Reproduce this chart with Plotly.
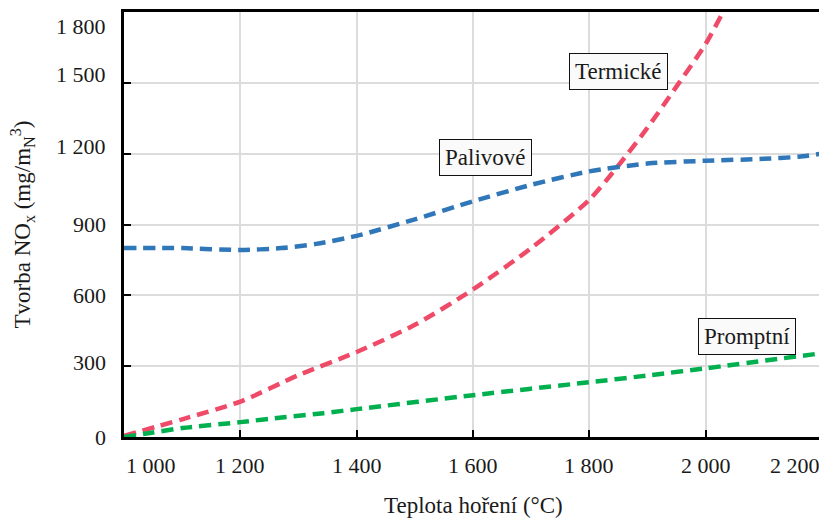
import plotly.graph_objects as go

# --- data ---
termicke_x = [1000, 1100, 1200, 1300, 1400, 1500, 1600, 1700, 1800, 1850, 1900, 1950, 2000, 2030, 2060]
termicke_y = [5, 75, 150, 262, 360, 475, 625, 800, 1005, 1150, 1310, 1485, 1665, 1800, 1930]

palivove_x = [1000, 1100, 1200, 1270, 1330, 1400, 1500, 1600, 1700, 1800, 1900, 2000, 2100, 2160, 2200]
palivove_y = [800, 800, 792, 800, 818, 852, 922, 998, 1068, 1125, 1158, 1170, 1178, 1187, 1200]

promptni_x = [1000, 1045, 1100, 1200, 1275, 1343, 1400, 1600, 1800, 1905, 2000, 2200]
promptni_y = [0, 17, 38, 63, 84, 101, 118, 177, 232, 262, 291, 355]

x_ticks = [1000, 1200, 1400, 1600, 1800, 2000, 2200]
x_tick_text = ["1 000", "1 200", "1 400", "1 600", "1 800", "2 000", "2 200"]
y_ticks = [0, 300, 600, 900, 1200, 1500, 1800]
y_tick_text = ["0", "300", "600", "900", "1 200", "1 500", "1 800"]

series_names = ["Termické", "Palivové", "Promptní"]
label_pos_x = [1850, 1622, 2071]
label_pos_y = [1550, 1183, 427]

# --- styling ---
FONT = "Liberation Serif"
TXT = "#1a1a1a"
colors = ["#EF4B68", "#2F77B9", "#00B04F"]
y_label_shift = [0, 4, 0, 0, 7, 8, -14]
x_label_anchor = ["left", "center", "center", "center", "center", "center", "right"]

fig = go.Figure()
for xs, ys, c, n in zip([termicke_x, palivove_x, promptni_x],
                        [termicke_y, palivove_y, promptni_y], colors, series_names):
    fig.add_trace(go.Scatter(x=xs, y=ys, mode="lines", name=n,
                             line=dict(color=c, width=4.5, dash="12px,7px",
                                       shape="spline", smoothing=0.7),
                             showlegend=False))

annotations = []
for v, t, a in zip(x_ticks, x_tick_text, x_label_anchor):
    annotations.append(dict(x=v, xref="x", y=0, yref="paper", text=t,
                            showarrow=False, xanchor=a, yanchor="middle",
                            yshift=-28, font=dict(family=FONT, size=22, color=TXT)))
for v, t, s in zip(y_ticks, y_tick_text, y_label_shift):
    annotations.append(dict(x=0, xref="paper", y=v, yref="y", text=t,
                            showarrow=False, xanchor="right", yanchor="middle",
                            xshift=-16, yshift=s, font=dict(family=FONT, size=22, color=TXT)))
for n, x, y in zip(series_names, label_pos_x, label_pos_y):
    annotations.append(dict(x=x, y=y, xref="x", yref="y", text=n, showarrow=False,
                            bgcolor="#fafafa", bordercolor="#111", borderwidth=1,
                            borderpad=5, font=dict(family=FONT, size=23, color=TXT)))
annotations.append(dict(x=0.5, xref="paper", y=0, yref="paper", yshift=-68,
                        text="Teplota hoření (°C)", showarrow=False,
                        xanchor="center", yanchor="middle",
                        font=dict(family=FONT, size=23, color=TXT)))
annotations.append(dict(x=0, xref="paper", y=0.5, yref="paper", xshift=-102,
                        text="Tvorba NO<sub>x</sub> (mg/m<sub>N</sub><sup>3</sup>)",
                        textangle=-90, showarrow=False, xanchor="center", yanchor="middle",
                        font=dict(family=FONT, size=23, color=TXT)))

axis_common = dict(showline=True, linecolor="black", linewidth=2.5, mirror=True,
                   ticks="inside", ticklen=7, tickwidth=2, tickcolor="black",
                   showgrid=True, gridcolor="#dcdcdc", gridwidth=2,
                   showticklabels=False, zeroline=False)

# the page body offsets the figure a little; size/margins compensate
fig.update_layout(
    width=818, height=511,
    margin=dict(l=116, r=1, t=4, b=82),
    paper_bgcolor="white", plot_bgcolor="white",
    xaxis=dict(range=[1000, 2200], tickvals=x_ticks, **axis_common),
    yaxis=dict(range=[0, 1800], tickvals=y_ticks, **axis_common),
    annotations=annotations,
)

fig.write_html("out.html")
